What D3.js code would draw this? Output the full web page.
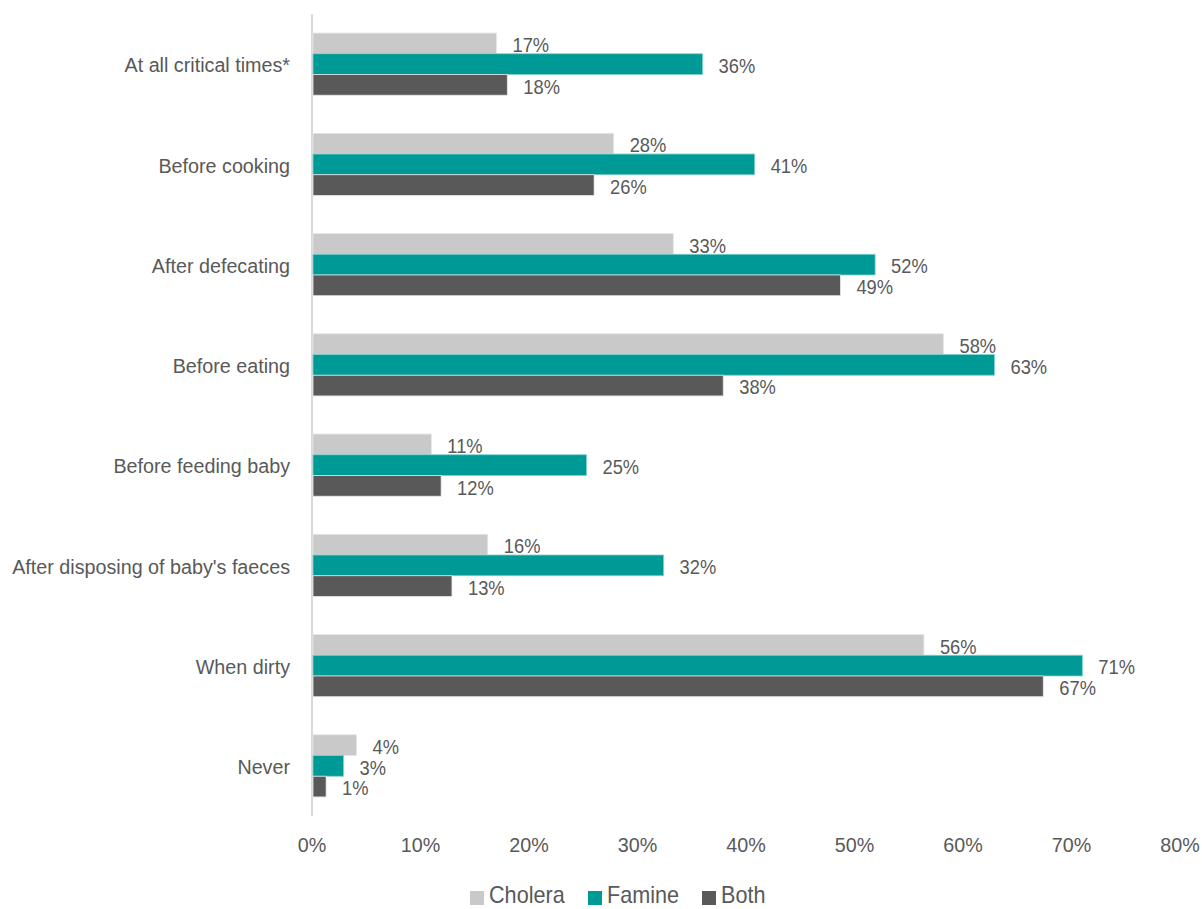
<!DOCTYPE html>
<html><head><meta charset="utf-8">
<script src="https://cdn.jsdelivr.net/npm/d3@7"></script>
<style>body{margin:0;background:#fff;} text{font-family:"Liberation Sans",Arial,sans-serif;fill:#595959;}</style>
</head><body><svg id="c" width="1202" height="909"></svg>
<script>
const categories = ["At all critical times*","Before cooking","After defecating","Before eating","Before feeding baby","After disposing of baby's faeces","When dirty","Never"];
const seriesNames = ["Cholera","Famine","Both"];
const cholera = [0.170,0.278,0.333,0.582,0.110,0.162,0.564,0.041];
const famine  = [0.360,0.408,0.519,0.629,0.253,0.324,0.710,0.029];
const both    = [0.180,0.260,0.487,0.379,0.119,0.129,0.674,0.013];
const xTicks = [0,0.1,0.2,0.3,0.4,0.5,0.6,0.7,0.8];
const colors = ["#c9c9c9","#009a96","#595959"];
const series = [cholera,famine,both];

(function(){
const svg = d3.select("#c");
const mLeft = 312, mRight = 1180, mTop = 14, mBottom = 816;
const x = d3.scaleLinear().domain([0,0.8]).range([mLeft,mRight]);
const y = d3.scaleBand().domain(categories).range([mTop,mBottom]).paddingInner(0.38).paddingOuter(0.19);
const y1 = d3.scaleBand().domain(seriesNames).range([0,y.bandwidth()]);
const fmt = d3.format(".0%");
const SX = 0.94;
function txt(px, py, s, size, anchor){
  return svg.append("text").attr("transform",`translate(${px},${py}) scale(${SX},1)`)
    .attr("text-anchor",anchor||"start").attr("dominant-baseline","central").attr("font-size",size).text(s);
}

svg.append("line").attr("x1",mLeft).attr("x2",mLeft).attr("y1",mTop).attr("y2",mBottom).attr("stroke","#d9d9d9").attr("stroke-width",2);

categories.forEach((c,i)=>{
  series.forEach((s,j)=>{
    const yy = y(c)+y1(seriesNames[j]);
    svg.append("rect").attr("x",x(0)+1).attr("y",yy).attr("width",x(s[i])-x(0)-1).attr("height",y1.bandwidth())
      .attr("fill",colors[j]).attr("stroke", j===1?"#7fd0cc":"#e6e6e6").attr("stroke-width",0.8);
    txt(x(s[i])+16, yy+y1.bandwidth()/2+2, fmt(s[i]), 19.5);
  });
  txt(290, y(c)+y.bandwidth()/2+1, c, 21, "end");
});

xTicks.forEach(t=>{ txt(x(t), 845, fmt(t), 21, "middle"); });

const legX = [470,588,702];
seriesNames.forEach((n,j)=>{
  svg.append("rect").attr("x",legX[j]).attr("y",891).attr("width",14).attr("height",14).attr("fill",colors[j]);
  txt(legX[j]+19, 895, n, 23);
});
})();
</script></body></html>
